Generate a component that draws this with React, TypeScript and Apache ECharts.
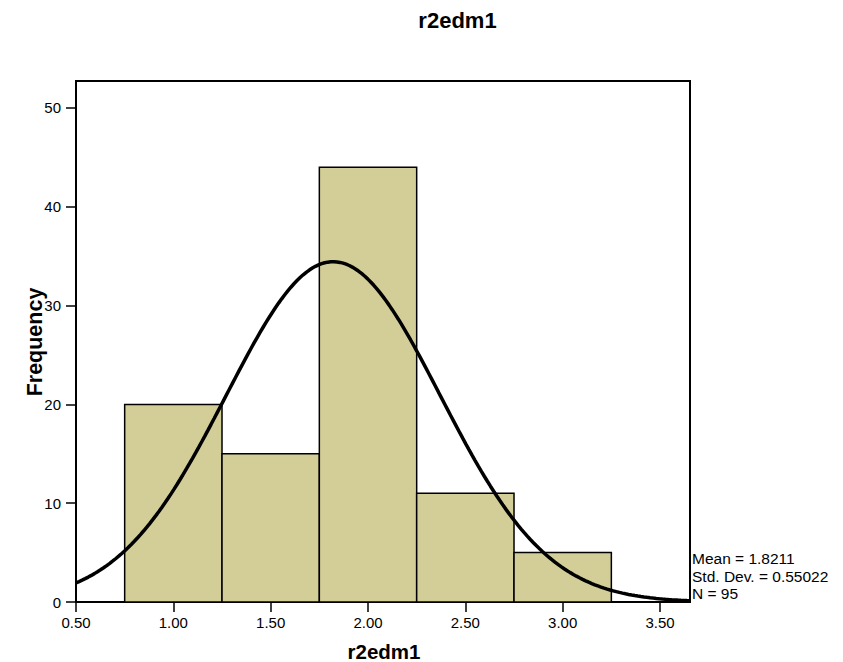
import React, { useEffect, useRef } from "react";
import * as echarts from "echarts";

const TITLE = "r2edm1";
const X_NAME = "r2edm1";
const Y_NAME = "Frequency";
const BIN_STARTS = [0.75, 1.25, 1.75, 2.25, 2.75];
const BIN_ENDS = [1.25, 1.75, 2.25, 2.75, 3.25];
const COUNTS = [20, 15, 44, 11, 5];
const X_TICKS = [0.5, 1.0, 1.5, 2.0, 2.5, 3.0, 3.5];
const Y_TICKS = [0, 10, 20, 30, 40, 50];
const MEAN = 1.8211;
const STD_DEV = 0.55022;
const N = 95;
const BIN_WIDTH = 0.5;
const X_MIN = 0.5;
const X_MAX = 3.654;
const Y_MAX = 52.73;
const STATS = [`Mean = ${MEAN}`, `Std. Dev. = ${STD_DEV}`, `N = ${N}`];

function normalCurve(): number[][] {
  const pts: number[][] = [];
  const steps = 200;
  for (let i = 0; i <= steps; i++) {
    const x = X_MIN + ((X_MAX - X_MIN) * i) / steps;
    const z = (x - MEAN) / STD_DEV;
    const y = (N * BIN_WIDTH * Math.exp(-0.5 * z * z)) / (STD_DEV * Math.sqrt(2 * Math.PI));
    pts.push([x, y]);
  }
  return pts;
}

export default function App() {
  const ref = useRef<HTMLDivElement>(null);
  useEffect(() => {
    if (!ref.current) return;
    const chart = echarts.init(ref.current, null, { renderer: "svg" });
    const font = "'Liberation Sans', Arial, sans-serif";
    const barData = BIN_STARTS.map((s, i) => [s, BIN_ENDS[i], COUNTS[i]]);
    chart.setOption({
      animation: false,
      backgroundColor: "#ffffff",
      grid: {
        left: 76,
        right: 153,
        top: 81,
        bottom: 60,
        show: true,
        borderColor: "#000",
        borderWidth: 2,
        backgroundColor: "transparent",
      },
      xAxis: {
        type: "value",
        min: X_MIN,
        max: X_MAX,
        interval: 0.5,
        splitLine: { show: false },
        axisLine: { show: true, lineStyle: { color: "#000", width: 2 } },
        axisTick: {
          show: true,
          length: 10,
          lineStyle: { color: "#000", width: 1.5 },
          customValues: X_TICKS,
        },
        axisLabel: {
          color: "#000",
          fontFamily: font,
          fontSize: 15,
          margin: 13,
          customValues: X_TICKS,
          formatter: (v: number) =>
            X_TICKS.some((t) => Math.abs(t - v) < 1e-6) ? v.toFixed(2) : "",
        },
      },
      yAxis: {
        type: "value",
        min: 0,
        max: Y_MAX,
        interval: 10,
        splitLine: { show: false },
        axisLine: { show: true, lineStyle: { color: "#000", width: 2 } },
        axisTick: {
          show: true,
          length: 10,
          lineStyle: { color: "#000", width: 1.5 },
          customValues: Y_TICKS,
        },
        axisLabel: {
          color: "#000",
          fontFamily: font,
          fontSize: 15,
          margin: 15,
          customValues: Y_TICKS,
          formatter: (v: number) =>
            Y_TICKS.some((t) => Math.abs(t - v) < 1e-6) ? String(v) : "",
        },
      },
      series: [
        {
          type: "custom",
          data: barData,
          encode: { x: [0, 1], y: 2 },
          z: 2,
          renderItem: (params: any, api: any) => {
            const p0 = api.coord([api.value(0), api.value(2)]);
            const p1 = api.coord([api.value(1), 0]);
            return {
              type: "rect",
              shape: { x: p0[0], y: p0[1], width: p1[0] - p0[0], height: p1[1] - p0[1] },
              style: { fill: "#d3ce97", stroke: "#000", lineWidth: 1.5 },
            };
          },
        },
        {
          type: "line",
          data: normalCurve(),
          showSymbol: false,
          symbol: "none",
          smooth: false,
          z: 3,
          lineStyle: { color: "#000", width: 3.5 },
        },
      ],
      graphic: [
        {
          type: "text",
          x: 457.5,
          y: 20,
          style: {
            text: TITLE,
            fontFamily: font,
            fontWeight: "bold",
            fontSize: 22,
            fill: "#000",
            align: "center",
            verticalAlign: "middle",
          },
        },
        {
          type: "text",
          x: 384,
          y: 651,
          style: {
            text: X_NAME,
            fontFamily: font,
            fontWeight: "bold",
            fontSize: 20.5,
            fill: "#000",
            align: "center",
            verticalAlign: "middle",
          },
        },
        {
          type: "text",
          x: 35,
          y: 342,
          rotation: Math.PI / 2,
          style: {
            text: Y_NAME,
            fontFamily: font,
            fontWeight: "bold",
            fontSize: 21.5,
            fill: "#000",
            align: "center",
            verticalAlign: "middle",
          },
        },
        ...STATS.map((s, i) => ({
          type: "text",
          x: 692,
          y: 558.5 + i * 17.7,
          style: {
            text: s,
            fontFamily: font,
            fontSize: 15.5,
            fill: "#000",
            align: "left",
            verticalAlign: "middle",
          },
        })),
      ],
    });
    return () => chart.dispose();
  }, []);
  return (
    <div
      ref={ref}
      style={{ position: "absolute", left: 0, top: 0, width: 843, height: 662 }}
    />
  );
}
